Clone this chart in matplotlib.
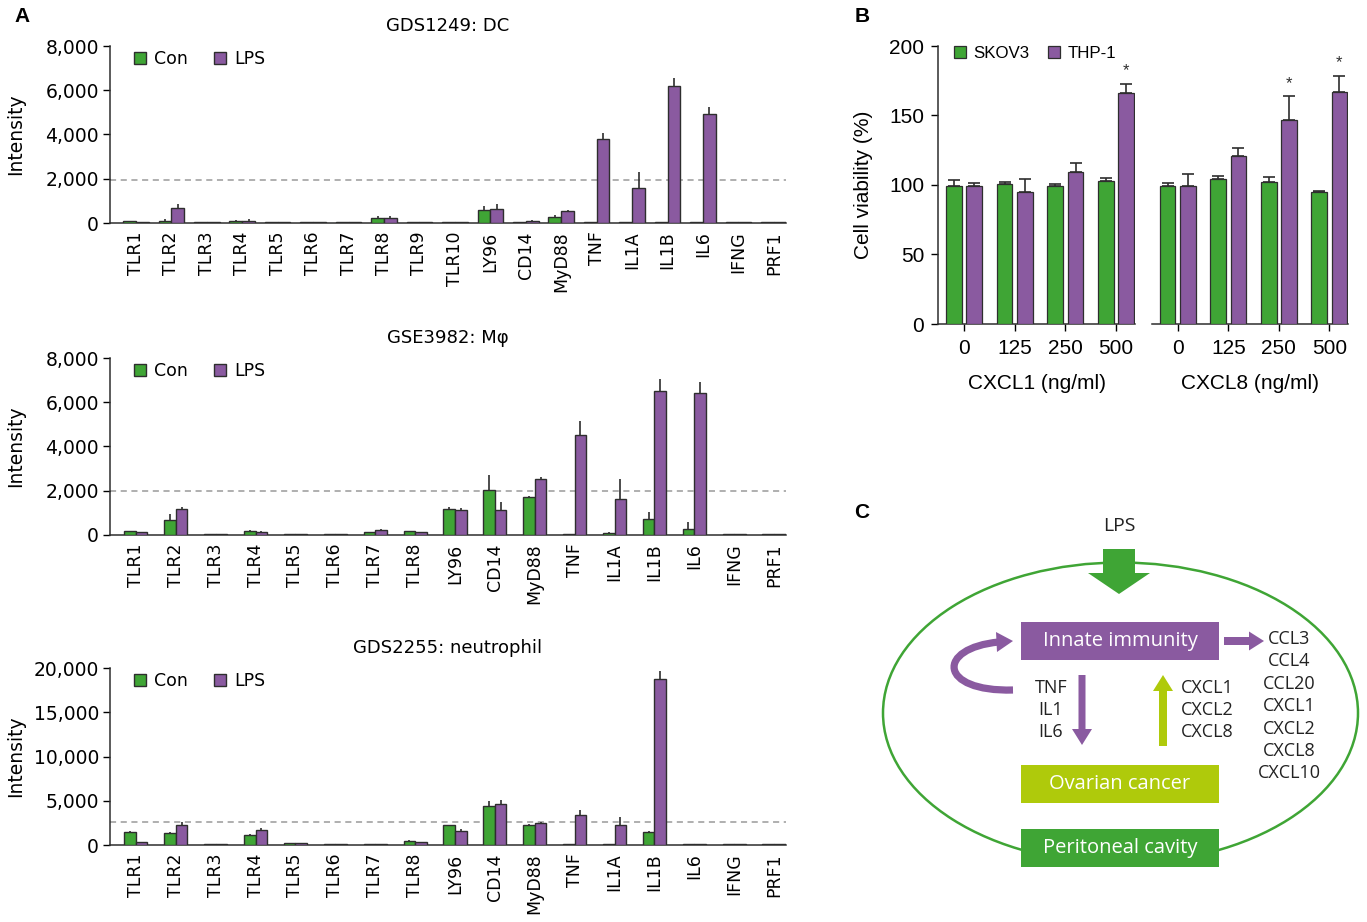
import numpy as np
import matplotlib.pyplot as plt
from matplotlib.patches import Ellipse, Rectangle, FancyArrow, PathPatch, Polygon
from matplotlib.path import Path
from matplotlib.ticker import FuncFormatter

W, H = 1367, 922
green = '#3fa535'
purple = '#8a5aa0'
lime = '#afca0b'
dark = '#2e2e2e'

# ---- panel A data (intensity) ----
genes_dc = ['TLR1', 'TLR2', 'TLR3', 'TLR4', 'TLR5', 'TLR6', 'TLR7', 'TLR8', 'TLR9', 'TLR10',
            'LY96', 'CD14', 'MyD88', 'TNF', 'IL1A', 'IL1B', 'IL6', 'IFNG', 'PRF1']
con_dc = [90, 105, 30, 105, 30, 30, 30, 225, 30, 30, 600, 45, 285, 35, 35, 35, 35, 30, 30]
con_dc_err = [0, 90, 0, 40, 0, 0, 0, 100, 0, 0, 150, 0, 75, 0, 0, 0, 0, 0, 0]
lps_dc = [30, 680, 30, 105, 30, 30, 30, 225, 30, 30, 630, 75, 525, 3810, 1600, 6170, 4930, 30, 30]
lps_dc_err = [0, 190, 0, 60, 0, 0, 0, 100, 0, 0, 240, 75, 60, 260, 710, 380, 320, 0, 0]

genes_mf = ['TLR1', 'TLR2', 'TLR3', 'TLR4', 'TLR5', 'TLR6', 'TLR7', 'TLR8', 'LY96', 'CD14',
            'MyD88', 'TNF', 'IL1A', 'IL1B', 'IL6', 'IFNG', 'PRF1']
con_mf = [195, 660, 30, 180, 30, 30, 120, 165, 1160, 2015, 1700, 30, 75, 705, 270, 30, 30]
con_mf_err = [0, 270, 0, 40, 0, 0, 0, 0, 120, 700, 60, 0, 60, 345, 300, 0, 0]
lps_mf = [120, 1160, 30, 135, 30, 30, 240, 120, 1110, 1110, 2510, 4500, 1610, 6510, 6420, 30, 30]
lps_mf_err = [0, 100, 0, 40, 0, 0, 30, 0, 90, 380, 120, 640, 930, 560, 500, 0, 0]

genes_nt = genes_mf
con_nt = [1430, 1320, 110, 1090, 190, 110, 110, 490, 2230, 4420, 2230, 110, 110, 1510, 110, 110, 110]
con_nt_err = [155, 190, 0, 190, 0, 0, 0, 60, 0, 600, 150, 0, 0, 110, 0, 0, 0]
lps_nt = [380, 2260, 110, 1700, 190, 110, 110, 380, 1620, 4640, 2450, 3400, 2300, 18790, 110, 110, 110]
lps_nt_err = [0, 340, 0, 190, 0, 0, 0, 0, 230, 420, 120, 560, 830, 910, 0, 0, 0]

# ---- panel B data (cell viability, %) ----
doses = ['0', '125', '250', '500']
skov_cxcl1 = [99.5, 100.5, 99.2, 103.2]
skov_cxcl1_err = [4.0, 2.0, 1.2, 1.8]
thp_cxcl1 = [99.0, 95.3, 109.5, 166.2]
thp_cxcl1_err = [2.4, 9.0, 6.3, 6.8]
skov_cxcl8 = [99.3, 104.5, 102.3, 95.3]
skov_cxcl8_err = [2.2, 2.1, 3.6, 0.7]
thp_cxcl8 = [99.0, 120.7, 146.5, 167.2]
thp_cxcl8_err = [9.0, 6.2, 17.3, 11.4]
star_cxcl1 = [False, False, False, True]
star_cxcl8 = [False, False, True, True]

# ---- panel C labels ----
down_labels = ['TNF', 'IL1', 'IL6']
up_labels = ['CXCL1', 'CXCL2', 'CXCL8']
out_labels = ['CCL3', 'CCL4', 'CCL20', 'CXCL1', 'CXCL2', 'CXCL8', 'CXCL10']

fig = plt.figure(figsize=(W / 100, H / 100), dpi=100)


def box(x0, y0, x1, y1):
    # pixel box (y counted from top) -> figure fraction
    return [x0 / W, 1 - y1 / H, (x1 - x0) / W, (y1 - y0) / H]


def expr_panel(ax, genes, con, con_err, lps, lps_err, ymax, cutoff, title, bw, xlim):
    x = np.arange(len(genes))
    z = np.zeros(len(x))
    ax.axhline(cutoff, color='#9a9a9a', ls=(0, (4, 3)), lw=1.1, zorder=1)
    ax.errorbar(x - bw / 2, con, yerr=[z, con_err], fmt='none', ecolor=dark, elinewidth=1.2, capsize=0, zorder=2)
    ax.errorbar(x + bw / 2, lps, yerr=[z, lps_err], fmt='none', ecolor=dark, elinewidth=1.2, capsize=0, zorder=2)
    b1 = ax.bar(x - bw / 2, con, bw, color=green, edgecolor=dark, lw=1.0, label='Con', zorder=3)
    b2 = ax.bar(x + bw / 2, lps, bw, color=purple, edgecolor=dark, lw=1.0, label='LPS', zorder=3)
    ax.set_xlim(*xlim)
    ax.set_ylim(0, ymax)
    ax.set_yticks(np.linspace(0, ymax, 5))
    ax.yaxis.set_major_formatter(FuncFormatter(lambda v, p: f'{int(v):,}'))
    ax.set_xticks(x)
    ax.set_xticklabels(genes, rotation=90, fontsize=12.5)
    ax.tick_params(axis='x', length=0, pad=6)
    ax.tick_params(axis='y', length=5, width=1, labelsize=13.5, pad=3)
    for s in ['top', 'right']:
        ax.spines[s].set_visible(False)
    for s in ['left', 'bottom']:
        ax.spines[s].set_linewidth(1.1)
        ax.spines[s].set_color(dark)
    ax.set_title(title, fontsize=13, pad=11)
    ax.set_ylabel('Intensity', fontsize=13.5)
    ax.yaxis.set_label_coords(-0.125, 0.5)
    ax.legend(handles=[b1, b2], loc='upper left', bbox_to_anchor=(0.036, 0.975), ncol=2, frameon=False,
              fontsize=12.5, handlelength=0.7, handleheight=0.7, handletextpad=0.45,
              columnspacing=1.5, borderaxespad=0, borderpad=0)


ax1 = fig.add_axes(box(110, 46, 786, 223))
expr_panel(ax1, genes_dc, con_dc, con_dc_err, lps_dc, lps_dc_err, 8000, 1950,
           'GDS1249: DC', 0.36, (-0.73, 18.34))
ax2 = fig.add_axes(box(110, 358, 786, 535))
expr_panel(ax2, genes_mf, con_mf, con_mf_err, lps_mf, lps_mf_err, 8000, 2000,
           'GSE3982: M\u03c6', 0.29, (-0.65, 16.3))
ax3 = fig.add_axes(box(110, 668, 786, 845))
expr_panel(ax3, genes_nt, con_nt, con_nt_err, lps_nt, lps_nt_err, 20000, 2600,
           'GDS2255: neutrophil', 0.29, (-0.65, 16.3))

# ---- panel B ----
bfont = ['Liberation Sans', 'DejaVu Sans']


def via_panel(ax, skov, skov_err, thp, thp_err, stars, xlabel, first):
    x = np.arange(len(doses))
    z = np.zeros(len(x))
    bw = 0.31
    ax.errorbar(x - 0.2, skov, yerr=[z, skov_err], fmt='none', ecolor=dark, elinewidth=1.2,
                capsize=4, capthick=1.2, zorder=2)
    ax.errorbar(x + 0.2, thp, yerr=[z, thp_err], fmt='none', ecolor=dark, elinewidth=1.2,
                capsize=4, capthick=1.2, zorder=2)
    b1 = ax.bar(x - 0.2, skov, bw, color=green, edgecolor=dark, lw=0.9, label='SKOV3', zorder=3)
    b2 = ax.bar(x + 0.2, thp, bw, color=purple, edgecolor=dark, lw=0.9, label='THP-1', zorder=3)
    for i in range(len(x)):
        if stars[i]:
            ax.text(x[i] + 0.2, thp[i] + thp_err[i] + 4, '*', ha='center', va='bottom',
                    fontsize=12, family=bfont, color=dark)
    ax.set_xlim(-0.51, 3.37)
    ax.set_ylim(0, 200)
    ax.set_xticks(x)
    ax.set_xticklabels(doses, fontsize=15, family=bfont)
    ax.tick_params(axis='x', length=5, width=1, pad=6)
    ax.set_xlabel(xlabel, fontsize=15, family=bfont, labelpad=11)
    for s in ['top', 'right']:
        ax.spines[s].set_visible(False)
    ax.spines['bottom'].set_linewidth(1.1)
    ax.spines['bottom'].set_color(dark)
    if first:
        ax.spines['left'].set_linewidth(1.1)
        ax.spines['left'].set_color(dark)
        ax.set_yticks([0, 50, 100, 150, 200])
        ax.set_yticklabels(['0', '50', '100', '150', '200'], fontsize=15, family=bfont)
        ax.tick_params(axis='y', length=5, width=1, pad=5)
        ax.set_ylabel('Cell viability (%)', fontsize=15, family=bfont)
        ax.yaxis.set_label_coords(-0.33, 0.5)
        ax.legend(handles=[b1, b2], loc='upper left', bbox_to_anchor=(0.08, 1.0), ncol=2,
                  frameon=False, prop={'family': bfont, 'size': 12.2}, handlelength=0.7,
                  handleheight=0.7, handletextpad=0.45, columnspacing=1.1,
                  borderaxespad=0, borderpad=0)
    else:
        ax.spines['left'].set_visible(False)
        ax.set_yticks([])


axb1 = fig.add_axes(box(938, 46, 1135, 324))
via_panel(axb1, skov_cxcl1, skov_cxcl1_err, thp_cxcl1, thp_cxcl1_err, star_cxcl1, 'CXCL1 (ng/ml)', True)
axb2 = fig.add_axes(box(1152, 46, 1348, 324))
via_panel(axb2, skov_cxcl8, skov_cxcl8_err, thp_cxcl8, thp_cxcl8_err, star_cxcl8, 'CXCL8 (ng/ml)', False)

# ---- panel C (drawn in pixel units) ----
cfont = ['Open Sans', 'DejaVu Sans']
axc = fig.add_axes(box(860, 502, 1367, 922))
axc.set_xlim(860, 1367)
axc.set_ylim(922, 502)
axc.axis('off')

axc.add_patch(Ellipse((1120.5, 713), 475, 301, fill=False, ec=green, lw=1.8, zorder=1))
axc.add_patch(FancyArrow(1119, 549, 0, 45, width=32, head_width=62, head_length=21,
                         length_includes_head=True, color=green, lw=0, zorder=3))
axc.text(1119, 526, 'LPS', ha='center', va='center', fontsize=14, family=cfont, color='#222222')

boxes = [('Innate immunity', 622, purple), ('Ovarian cancer', 765, lime), ('Peritoneal cavity', 829, green)]
for label, top, col in boxes:
    axc.add_patch(Rectangle((1021, top), 198, 38, color=col, lw=0, zorder=3))
    axc.text(1120, top + 19, label, ha='center', va='center', fontsize=14.5, family=cfont,
             color='white', zorder=4)

axc.add_patch(FancyArrow(1224, 641, 40, 0, width=8, head_width=19, head_length=15,
                         length_includes_head=True, color=purple, lw=0))
axc.add_patch(FancyArrow(1082, 675, 0, 70, width=7, head_width=20, head_length=16,
                         length_includes_head=True, color=purple, lw=0))
axc.add_patch(FancyArrow(1163, 746, 0, -71, width=8, head_width=20, head_length=16,
                         length_includes_head=True, color=lime, lw=0))
# feedback loop: thick curved stroke plus a triangular head
loop = Path([(1013, 690), (938, 692), (936, 648), (999, 642)],
            [Path.MOVETO, Path.CURVE4, Path.CURVE4, Path.CURVE4])
axc.add_patch(PathPatch(loop, fill=False, ec=purple, lw=5.2, capstyle='butt'))
axc.add_patch(Polygon([(996, 632), (1013, 641), (997, 652)], closed=True, color=purple, lw=0))

for i, t in enumerate(down_labels):
    axc.text(1051, 688 + 22 * i, t, ha='center', va='center', fontsize=13, family=cfont, color='#222222')
for i, t in enumerate(up_labels):
    axc.text(1207, 688 + 22 * i, t, ha='center', va='center', fontsize=13, family=cfont, color='#222222')
for i, t in enumerate(out_labels):
    axc.text(1289, 639 + 22.4 * i, t, ha='center', va='center', fontsize=13, family=cfont, color='#222222')

# ---- panel letters ----
for letter, px, py in [('A', 22, 17), ('B', 862, 17), ('C', 862, 512)]:
    fig.text(px / W, 1 - py / H, letter, fontsize=15, fontweight='bold', family=bfont,
             ha='center', va='center')

fig.savefig('out.png', dpi=100)
